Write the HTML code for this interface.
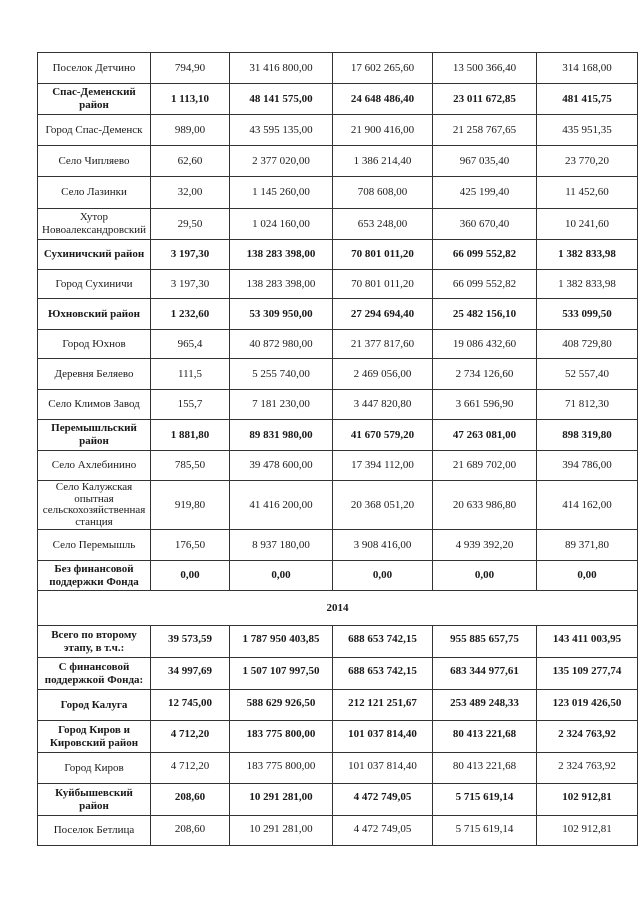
<!DOCTYPE html>
<html><head><meta charset="utf-8"><style>
html,body{margin:0;padding:0;background:#fff;width:640px;height:905px;overflow:hidden}
table{position:absolute;left:37px;top:52px;border-collapse:collapse;table-layout:fixed;font-family:"Liberation Serif","DejaVu Serif",serif;font-size:11px;color:#1a1a1a}
td{border:1px solid #333;text-align:center;vertical-align:middle;padding:0 2px;line-height:13px;overflow:hidden}
td:first-child{padding:0 7px}
.b td{font-weight:bold}
.t td{vertical-align:top;padding-top:7px}
.t td:first-child{vertical-align:middle;padding-top:0}
</style></head><body>
<table>
<colgroup><col style="width:113px"><col style="width:79px"><col style="width:103px"><col style="width:100px"><col style="width:104px"><col style="width:101px"></colgroup>
<tr style="height:31px"><td>Поселок Детчино</td><td>794,90</td><td>31 416 800,00</td><td>17 602 265,60</td><td>13 500 366,40</td><td>314 168,00</td></tr>
<tr class="b" style="height:31px"><td>Спас-Деменский район</td><td>1 113,10</td><td>48 141 575,00</td><td>24 648 486,40</td><td>23 011 672,85</td><td>481 415,75</td></tr>
<tr style="height:31px"><td style="padding:0 2px">Город Спас-Деменск</td><td>989,00</td><td>43 595 135,00</td><td>21 900 416,00</td><td>21 258 767,65</td><td>435 951,35</td></tr>
<tr style="height:31px"><td>Село Чипляево</td><td>62,60</td><td>2 377 020,00</td><td>1 386 214,40</td><td>967 035,40</td><td>23 770,20</td></tr>
<tr style="height:32px"><td>Село Лазинки</td><td>32,00</td><td>1 145 260,00</td><td>708 608,00</td><td>425 199,40</td><td>11 452,60</td></tr>
<tr style="height:31px"><td style="padding:0 2px">Хутор Новоалександровский</td><td>29,50</td><td>1 024 160,00</td><td>653 248,00</td><td>360 670,40</td><td>10 241,60</td></tr>
<tr class="b" style="height:30px"><td style="padding:0 2px">Сухиничский район</td><td>3 197,30</td><td>138 283 398,00</td><td>70 801 011,20</td><td>66 099 552,82</td><td>1 382 833,98</td></tr>
<tr style="height:29px"><td>Город Сухиничи</td><td>3 197,30</td><td>138 283 398,00</td><td>70 801 011,20</td><td>66 099 552,82</td><td>1 382 833,98</td></tr>
<tr class="b" style="height:31px"><td style="padding:0 2px">Юхновский район</td><td>1 232,60</td><td>53 309 950,00</td><td>27 294 694,40</td><td>25 482 156,10</td><td>533 099,50</td></tr>
<tr style="height:29px"><td>Город Юхнов</td><td>965,4</td><td>40 872 980,00</td><td>21 377 817,60</td><td>19 086 432,60</td><td>408 729,80</td></tr>
<tr style="height:31px"><td>Деревня Беляево</td><td>111,5</td><td>5 255 740,00</td><td>2 469 056,00</td><td>2 734 126,60</td><td>52 557,40</td></tr>
<tr style="height:30px"><td style="padding:0 2px">Село Климов Завод</td><td>155,7</td><td>7 181 230,00</td><td>3 447 820,80</td><td>3 661 596,90</td><td>71 812,30</td></tr>
<tr class="b" style="height:31px"><td>Перемышльский район</td><td>1 881,80</td><td>89 831 980,00</td><td>41 670 579,20</td><td>47 263 081,00</td><td>898 319,80</td></tr>
<tr style="height:30px"><td>Село Ахлебинино</td><td>785,50</td><td>39 478 600,00</td><td>17 394 112,00</td><td>21 689 702,00</td><td>394 786,00</td></tr>
<tr style="height:49px"><td style="padding:0 1px;line-height:11.5px">Село Калужская опытная сельскохозяйственная станция</td><td>919,80</td><td>41 416 200,00</td><td>20 368 051,20</td><td>20 633 986,80</td><td>414 162,00</td></tr>
<tr style="height:31px"><td>Село Перемышль</td><td>176,50</td><td>8 937 180,00</td><td>3 908 416,00</td><td>4 939 392,20</td><td>89 371,80</td></tr>
<tr class="b" style="height:30px"><td>Без финансовой поддержки Фонда</td><td>0,00</td><td>0,00</td><td>0,00</td><td>0,00</td><td>0,00</td></tr>
<tr class="b" style="height:35px"><td colspan="6">2014</td></tr>
<tr class="b t" style="height:32px"><td>Всего по второму этапу, в т.ч.:</td><td>39 573,59</td><td>1 787 950 403,85</td><td>688 653 742,15</td><td>955 885 657,75</td><td>143 411 003,95</td></tr>
<tr class="b t" style="height:32px"><td style="padding:0 2px">С финансовой поддержкой Фонда:</td><td>34 997,69</td><td>1 507 107 997,50</td><td>688 653 742,15</td><td>683 344 977,61</td><td>135 109 277,74</td></tr>
<tr class="b t" style="height:31px"><td>Город Калуга</td><td>12 745,00</td><td>588 629 926,50</td><td>212 121 251,67</td><td>253 489 248,33</td><td>123 019 426,50</td></tr>
<tr class="b t" style="height:32px"><td style="padding:0 3px">Город Киров и Кировский район</td><td>4 712,20</td><td>183 775 800,00</td><td>101 037 814,40</td><td>80 413 221,68</td><td>2 324 763,92</td></tr>
<tr class="t" style="height:31px"><td>Город Киров</td><td>4 712,20</td><td>183 775 800,00</td><td>101 037 814,40</td><td>80 413 221,68</td><td>2 324 763,92</td></tr>
<tr class="b t" style="height:32px"><td style="padding:0 12px">Куйбышевский район</td><td>208,60</td><td>10 291 281,00</td><td>4 472 749,05</td><td>5 715 619,14</td><td>102 912,81</td></tr>
<tr class="t" style="height:30px"><td>Поселок Бетлица</td><td>208,60</td><td>10 291 281,00</td><td>4 472 749,05</td><td>5 715 619,14</td><td>102 912,81</td></tr>
</table>
</body></html>
